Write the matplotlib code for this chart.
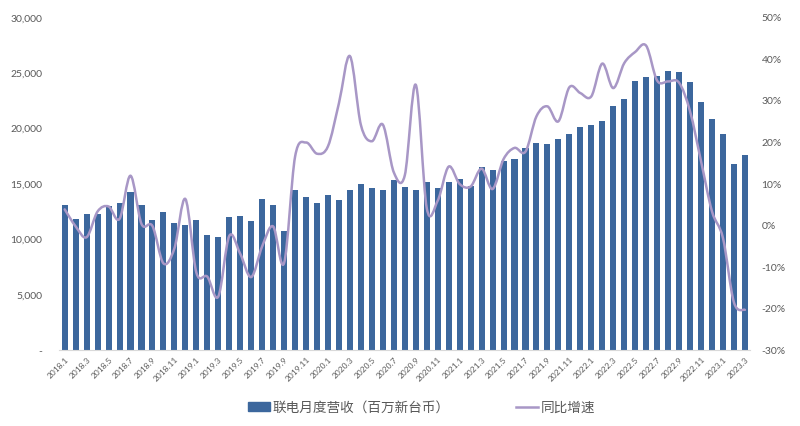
import numpy as np
import matplotlib.pyplot as plt
from matplotlib.path import Path
from matplotlib.patches import PathPatch
from matplotlib.ticker import FuncFormatter

plt.rcParams['font.family'] = ['Lato', 'Noto Sans CJK SC', 'DejaVu Sans']

# Data: UMC monthly revenue (million NTD) and YoY growth (%), 2018.1 - 2023.3
years = [2018, 2019, 2020, 2021, 2022, 2023]
months = ["%d.%d" % (y, m) for y in years for m in range(1, 13)][:63]

revenue = [13100, 11830, 12290, 12300, 12980, 13280, 14270, 13100, 11740, 12470,
           11500, 11290, 11740, 10390, 10210, 12000, 12100, 11650, 13640, 13100,
           10750, 14450, 13820, 13280, 14000, 13550, 14450, 15000, 14630, 14450,
           15360, 14720, 14450, 15180, 14630, 15180, 15450, 14810, 16530, 16260,
           17070, 17250, 18250, 18700, 18610, 19060, 19510, 20140, 20330, 20690,
           22040, 22670, 24300, 24660, 24750, 25200, 25100, 24200, 22400, 20870,
           19500, 16800, 17600]

yoy = [3.9, -0.2, -2.8, 3.4, 4.6, 1.6, 12.0, 0.4, -0.1, -9.1,
       -5.5, 6.4, -11.3, -12.3, -17.1, -2.5, -6.8, -12.4, -5.0, -0.2,
       -9.0, 16.6, 20.0, 17.3, 19.1, 29.5, 40.8, 24.2, 20.3, 24.3,
       12.8, 12.1, 33.9, 4.2, 6.0, 14.2, 10.0, 9.4, 13.7, 8.8,
       16.0, 18.7, 17.8, 26.3, 28.7, 25.1, 33.3, 31.9, 31.1, 39.0,
       33.1, 39.1, 41.8, 43.3, 34.9, 34.7, 34.4, 27.5, 15.5, 3.4,
       -3.0, -18.5, -20.3]

BAR_COLOR = '#3C679D'
LINE_COLOR = '#A897C6'
TEXT_COLOR = '#595959'


def smooth_path(xs, ys):
    # Excel-style smoothed line as cubic Bezier segments through the points
    pts = np.column_stack([xs, ys]).astype(float)
    n = len(pts)
    verts = [pts[0]]
    codes = [Path.MOVETO]
    for i in range(n - 1):
        p0 = pts[max(i - 1, 0)]
        p1 = pts[i]
        p2 = pts[i + 1]
        p3 = pts[min(i + 2, n - 1)]
        verts += [p1 + (p2 - p0) / 6, p2 - (p3 - p1) / 6, p2]
        codes += [Path.CURVE4] * 3
    return Path(verts, codes)


fig = plt.figure(figsize=(8, 4.26), dpi=100)
ax = fig.add_axes([0.074, 0.178, 0.864, 0.780])
x = np.arange(len(months))

ax.bar(x, revenue, width=0.55, color=BAR_COLOR, label='联电月度营收（百万新台币）')
ax.set_xlim(-0.5, len(months) - 0.5)
ax.set_ylim(0, 30000)
ax.set_yticks(range(0, 30001, 5000))
ax.yaxis.set_major_formatter(FuncFormatter(lambda v, p: '-' if v == 0 else '{:,.0f}'.format(v)))
ax.set_xticks(x[::2])
ax.set_xticklabels(months[::2], rotation=45, ha='right', rotation_mode='anchor')
ax.tick_params(axis='x', length=0, pad=4, labelsize=6, labelcolor=TEXT_COLOR)
ax.tick_params(axis='y', length=0, pad=12, labelsize=7.5, labelcolor=TEXT_COLOR)
for s in ['top', 'left', 'right']:
    ax.spines[s].set_visible(False)
ax.spines['bottom'].set_color('#D9D9D9')

ax2 = ax.twinx()
ax2.set_ylim(-30, 50)
ax2.set_yticks(range(-30, 51, 10))
ax2.yaxis.set_major_formatter(FuncFormatter(lambda v, p: '%d%%' % v))
ax2.tick_params(axis='y', length=0, pad=8, labelsize=7.5, labelcolor=TEXT_COLOR)
for s in ax2.spines.values():
    s.set_visible(False)
ax2.add_patch(PathPatch(smooth_path(x, yoy), fill=False, edgecolor=LINE_COLOR,
                        linewidth=1.8, capstyle='round', joinstyle='round'))

# legend
handles = [plt.Rectangle((0, 0), 1, 1, color=BAR_COLOR),
           plt.Line2D([], [], color=LINE_COLOR, linewidth=1.8)]
labels = ['联电月度营收（百万新台币）', '同比增速']
leg = fig.legend(handles, labels, loc='center', bbox_to_anchor=(0.527, 0.045),
                 ncol=2, frameon=False, fontsize=9.8, columnspacing=4.9,
                 handlelength=1.6, handleheight=0.6, handletextpad=0.2)
for t in leg.get_texts():
    t.set_color(TEXT_COLOR)

fig.savefig('out.png', dpi=100)
